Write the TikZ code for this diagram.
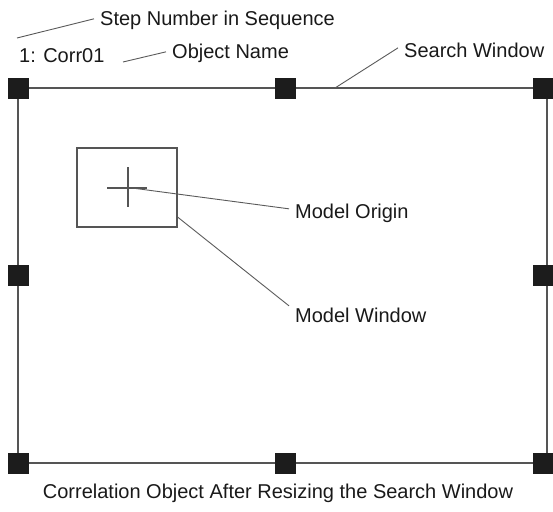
\documentclass[tikz,border=0pt]{standalone}
\usepackage{fontspec}
\setmainfont{Liberation Sans}
\usepackage{xcolor}
\usepackage{tikz}

\definecolor{framegray}{HTML}{555555}
\definecolor{leadgray}{HTML}{5A5A5A}
\definecolor{handleblack}{HTML}{1C1C1C}

\tikzset{
    handle/.style={fill=handleblack, draw=none, minimum size=21pt, inner sep=0pt},
    lbl/.style={anchor=base west, inner xsep=6pt, inner ysep=0pt, text=black!90, font=\fontsize{20}{24}\selectfont},
    leader/.style={draw=leadgray, line width=0.9pt}
}

\begin{document}
\begin{tikzpicture}[x=1pt, y=-1pt]
    \useasboundingbox (0,0) rectangle (553,511);

    % Search window frame
    \draw[framegray, line width=1.4pt] (18,88) -- (547,88) -- (547,463) -- (18,463) -- cycle;

    % Resize handles (corners and edge midpoints)
    \foreach \hx/\hy/\hn in {18/88/tl, 285.5/88/tm, 543/88/tr,
                             18/275.5/cl, 543/275.5/cr,
                             18/463/bl, 285.5/463/bm, 543/463/br}
        \node[handle] (h\hn) at (\hx,\hy) {};

    % Model window and origin cross
    \node[draw=framegray, line width=1.1pt, minimum width=100pt, minimum height=79pt, inner sep=0pt] (mwin) at (127,187.5) {};
    \draw[framegray, line width=1.1pt] (107,188) -- (147,188) (128,167) -- (128,207);

    % Labels
    \node[lbl] (stepLbl) at (94,26) {Step Number in Sequence};
    \node[lbl, inner xsep=0pt] (nameTxt) at (19,63) {1: Corr01};
    \node[lbl] (nameLbl) at (166,59) {Object Name};
    \node[lbl] (swLbl) at (398,57) {Search Window};
    \node[lbl] (moLbl) at (289,218) {Model Origin};
    \node[lbl] (mwLbl) at (289,322) {Model Window};
    \node[lbl, anchor=base, inner xsep=0pt] (caption) at (278,498) {Correlation Object After Resizing the Search Window};

    % Leader lines
    \coordinate (stepPt) at (17,38);
    \coordinate (namePt) at (123,62);
    \coordinate (swPt) at (335,88);
    \coordinate (moPt) at (132,188);
    \draw[leader] (stepPt) -- ([yshift=2pt]stepLbl.west);
    \draw[leader] (namePt) -- ([yshift=2pt]nameLbl.west);
    \draw[leader] (swPt) -- ([yshift=2pt]swLbl.west);
    \draw[leader] (moPt) -- ([yshift=4pt]moLbl.west);
    \draw[leader] ([yshift=-29.5pt]mwin.east) -- ([yshift=9pt]mwLbl.west);
\end{tikzpicture}
\end{document}
